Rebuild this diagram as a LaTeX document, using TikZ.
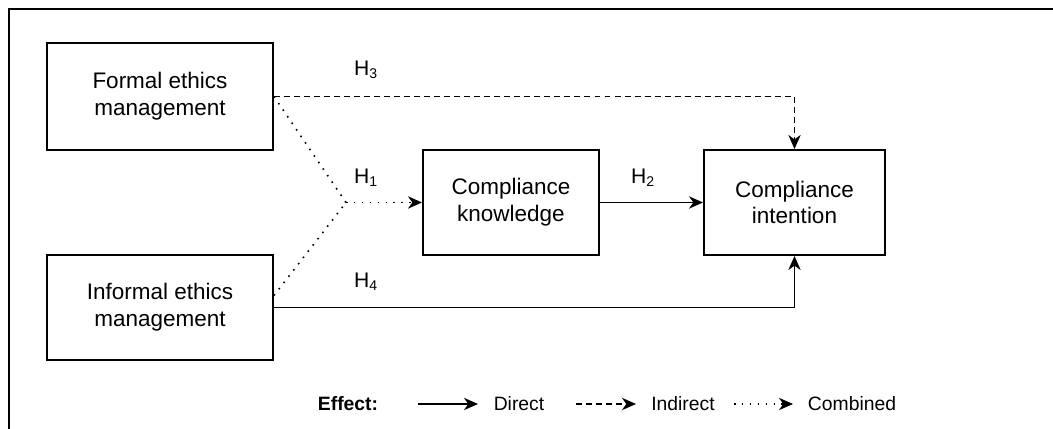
\documentclass[tikz,border=0pt]{standalone}
\usepackage{fontspec}
\setmainfont{Liberation Sans}
\usetikzlibrary{arrows.meta}

\begin{document}
\begin{tikzpicture}[
  >={Stealth[length=8pt,width=7pt,inset=2.5pt]},
  block/.style={draw,line width=1.1pt,align=center,font=\fontsize{12.8}{15.3}\selectfont},
  hyp/.style={font=\fontsize{12}{14}\selectfont},
  legend/.style={font=\fontsize{11}{13}\selectfont},
  link/.style={line width=0.9pt},
  indirect/.style={link,dash pattern=on 3.4pt off 2.3pt},
  combined/.style={link,dash pattern=on 0.9pt off 3.6pt}
]
\useasboundingbox (0,0) rectangle (21.06,8.58);
\draw[line width=0.9pt] (0.18,0) -- (0.18,8.4) -- (21.06,8.4);

\node[block,minimum width=4.52cm,minimum height=2.14cm] (formal) at (3.2,6.65) {Formal ethics\\management};
\node[block,minimum width=4.52cm,minimum height=2.1cm] (informal) at (3.2,2.43) {Informal ethics\\management};
\node[block,minimum width=3.52cm,minimum height=2.1cm] (knowledge) at (10.22,4.53) {Compliance\\knowledge};
\node[block,minimum width=3.62cm,minimum height=2.1cm] (intention) at (15.89,4.53) {Compliance\\intention};
\coordinate (junction) at (6.92,4.53);

\node[hyp] (h3) at (7.32,7.18) {H\textsubscript{3}};
\node[hyp] (h1) at (7.32,5.02) {H\textsubscript{1}};
\node[hyp] (h4) at (7.32,2.94) {H\textsubscript{4}};
\node[hyp] (h2) at (12.86,5.02) {H\textsubscript{2}};

\draw[indirect,->] (formal.east) -| (intention.north);
\draw[combined] (formal.east) -- (junction);
\draw[combined] (informal.6) -- (junction);
\draw[combined,->] (junction) -- (knowledge.west);
\draw[link,->] (knowledge.east) -- (intention.west);
\draw[link,->] (informal.east) -| (intention.south);

% legend
\node[legend,font=\fontsize{11}{13}\selectfont\bfseries] (effect) at (6.96,0.5) {Effect:};
\node[legend] (direct) at (10.38,0.5) {Direct};
\node[legend] (indir) at (13.66,0.5) {Indirect};
\node[legend] (comb) at (17.04,0.5) {Combined};
\coordinate (d1) at (8.36,0.5);
\coordinate (d2) at (9.56,0.5);
\coordinate (i1) at (11.52,0.5);
\coordinate (i2) at (12.72,0.5);
\coordinate (c1) at (14.68,0.5);
\coordinate (c2) at (15.86,0.5);
\draw[link,->] (d1) -- (d2);
\draw[indirect,->] (i1) -- (i2);
\draw[combined,->] (c1) -- (c2);
\end{tikzpicture}
\end{document}
